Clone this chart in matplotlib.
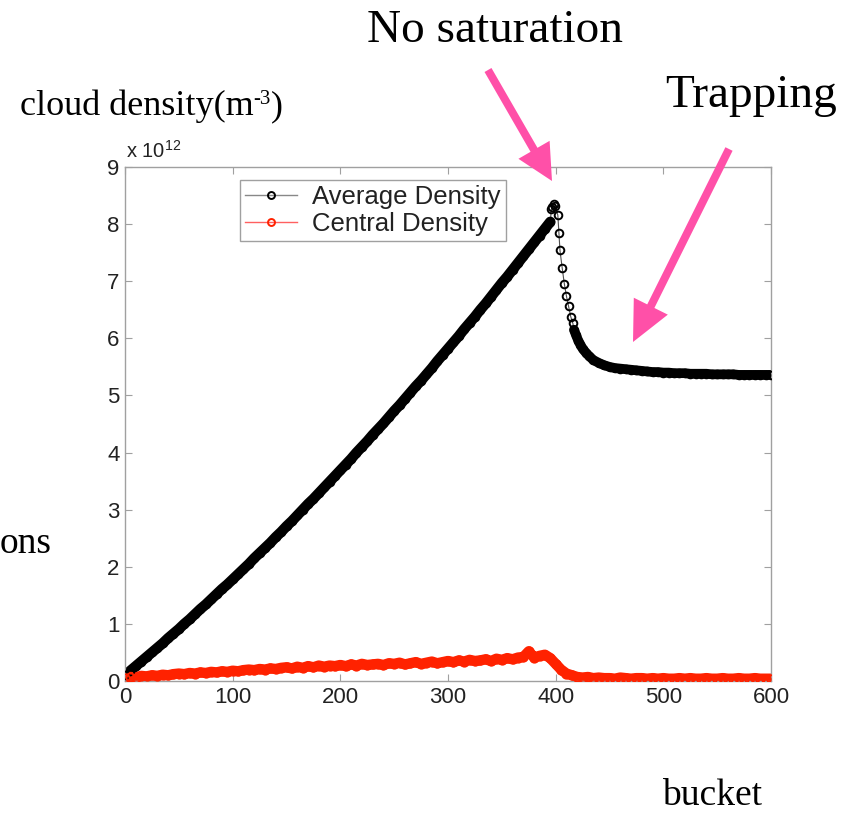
"""Cloud density vs bucket: average vs central density, with annotations."""

import numpy as np
import matplotlib
matplotlib.use("Agg")
import matplotlib.pyplot as plt
from matplotlib.lines import Line2D
from matplotlib.patches import FancyArrow

# average density (units of 1e12 m^-3), rising part every 5 buckets
rise_bucket = list(range(0, 400, 5))
rise_avg = [0.10, 0.18, 0.26, 0.34, 0.42, 0.50, 0.58, 0.66, 0.75, 0.83,
            0.91, 1.00, 1.08, 1.17, 1.26, 1.34, 1.43, 1.52, 1.61, 1.69,
            1.78, 1.87, 1.96, 2.05, 2.15, 2.24, 2.33, 2.42, 2.52, 2.61,
            2.71, 2.80, 2.90, 3.00, 3.10, 3.19, 3.29, 3.39, 3.49, 3.59,
            3.69, 3.79, 3.89, 4.00, 4.10, 4.20, 4.31, 4.41, 4.51, 4.62,
            4.73, 4.83, 4.94, 5.05, 5.16, 5.26, 5.37, 5.48, 5.60, 5.71,
            5.82, 5.93, 6.04, 6.16, 6.27, 6.38, 6.50, 6.61, 6.73, 6.85,
            6.97, 7.08, 7.20, 7.32, 7.44, 7.56, 7.68, 7.80, 7.92, 8.04]

# peak and collapse
drop_bucket = [396, 397, 398, 399, 402, 403, 404, 406, 408, 410, 412, 414,
               416, 417, 419, 421, 423, 425, 428, 431, 435]
drop_avg = [8.26, 8.30, 8.35, 8.31, 8.16, 7.85, 7.54, 7.24, 6.96, 6.74, 6.56,
            6.38, 6.26, 6.15, 6.05, 5.96, 5.89, 5.82, 5.75, 5.69, 5.62]

# trapped level
tail_bucket = list(range(440, 601, 5))
tail_avg = [5.57, 5.53, 5.50, 5.48, 5.47, 5.46, 5.45, 5.44, 5.43, 5.42,
            5.41, 5.41, 5.40, 5.40, 5.39, 5.39, 5.39, 5.38, 5.38, 5.38,
            5.38, 5.37, 5.37, 5.37, 5.37, 5.37, 5.36, 5.36, 5.36, 5.36,
            5.36, 5.36, 5.36]

# central density, every 5 buckets
central_bucket = list(range(0, 601, 5))
central = [0.05, 0.07, 0.06, 0.09, 0.08, 0.10, 0.09, 0.11, 0.10, 0.12,
           0.13, 0.12, 0.14, 0.13, 0.15, 0.14, 0.16, 0.15, 0.17, 0.16,
           0.18, 0.17, 0.19, 0.20, 0.19, 0.21, 0.20, 0.22, 0.21, 0.23,
           0.24, 0.22, 0.25, 0.23, 0.26, 0.24, 0.27, 0.25, 0.27, 0.26,
           0.28, 0.26, 0.29, 0.27, 0.30, 0.28, 0.29, 0.30, 0.28, 0.31,
           0.30, 0.32, 0.29, 0.31, 0.33, 0.30, 0.32, 0.34, 0.31, 0.33,
           0.35, 0.33, 0.36, 0.34, 0.37, 0.35, 0.36, 0.38, 0.35, 0.39,
           0.37, 0.40, 0.38, 0.41, 0.42, 0.52, 0.41, 0.44, 0.46, 0.40,
           0.30, 0.20, 0.13, 0.10, 0.07, 0.06, 0.07, 0.05, 0.06, 0.05,
           0.05, 0.04, 0.06, 0.05, 0.04, 0.05, 0.05, 0.04, 0.05, 0.04,
           0.05, 0.04, 0.04, 0.05, 0.04, 0.05, 0.04, 0.04, 0.05, 0.04,
           0.04, 0.05, 0.04, 0.04, 0.05, 0.04, 0.04, 0.05, 0.04, 0.04, 0.04]

x_ticks = [0, 100, 200, 300, 400, 500, 600]
y_ticks = [0, 1, 2, 3, 4, 5, 6, 7, 8, 9]

RED = "#ff2200"
PINK = "#ff50a8"
FRAME = "#a0a0a0"
SANS = ["Liberation Sans", "DejaVu Sans"]
SERIF = ["Liberation Serif", "DejaVu Serif"]

fig = plt.figure(figsize=(8.55, 8.14), dpi=100)
ax = fig.add_axes([125 / 855, 1 - 681 / 814, 646 / 855, 514 / 814])

avg_b = rise_bucket + drop_bucket + tail_bucket
avg_v = rise_avg + drop_avg + tail_avg
# dense part after the collapse (markers overlap into a solid band)
settle_b = [b for b in avg_b if b >= 417]
settle_v = [v for b, v in zip(avg_b, avg_v) if b >= 417]

# thin connecting lines underneath
ax.plot(avg_b, avg_v, color="#505050", lw=0.8, zorder=1)
ax.plot(central_bucket, central, color=RED, lw=0.8, zorder=1)
# thick underlay to make the dense marker bands solid
ax.plot(rise_bucket, rise_avg, color="black", lw=7.5, solid_capstyle="round", zorder=2)
ax.plot(settle_b, settle_v, color="black", lw=7, solid_capstyle="round", zorder=2)
ax.plot(central_bucket, central, color=RED, lw=7.5, solid_capstyle="round", zorder=2)
# open circle markers
ax.plot(avg_b, avg_v, ls="none", marker="o", ms=5.5,
        mfc="none", mec="black", mew=1.4, zorder=3)
ax.plot(central_bucket, central, ls="none", marker="o", ms=6,
        mfc="none", mec=RED, mew=1.4, zorder=3)

ax.set_xlim(0, 600)
ax.set_ylim(0, 9)
ax.set_xticks(x_ticks)
ax.set_yticks(y_ticks)
ax.tick_params(direction="in", length=5, width=0.8, color=FRAME,
               top=True, right=True, labelsize=16, pad=4)
for lbl in ax.get_xticklabels() + ax.get_yticklabels():
    lbl.set_family(SANS)
    lbl.set_color("#222222")
for s in ax.spines.values():
    s.set_color(FRAME)
    s.set_linewidth(1.0)

handles = [
    Line2D([], [], color="#888888", lw=1, marker="o", ms=5, mfc="none",
           mec="black", mew=1.4),
    Line2D([], [], color="#ff6060", lw=1, marker="o", ms=5, mfc="none",
           mec=RED, mew=1.4),
]
leg = ax.legend(handles, ["Average Density", "Central Density"],
                loc="upper left", bbox_to_anchor=(0.178, 0.975),
                prop={"family": SANS, "size": 18.5}, fancybox=False,
                framealpha=1, edgecolor=FRAME, handlelength=2.0,
                borderpad=0.2, labelspacing=0.1, handletextpad=0.6,
                borderaxespad=0)
leg.get_frame().set_linewidth(1.0)
for t in leg.get_texts():
    t.set_color("#222222")

# overlay in pixel coordinates for annotations
ov = fig.add_axes([0, 0, 1, 1], zorder=5)
ov.set_xlim(0, 855)
ov.set_ylim(814, 0)
ov.axis("off")
ov.patch.set_alpha(0)

ov.text(126, 158, r"x 10$^{\mathregular{12}}$", fontsize=14.5, family=SANS,
        color="#222222", va="baseline")

ov.text(495, 42, "No saturation", fontsize=34, family=SERIF, ha="center",
        va="baseline")
ov.text(751, 107, "Trapping", fontsize=34, family=SERIF, ha="center",
        va="baseline")
t = ov.text(20, 115, "cloud density(m", fontsize=26, family=SERIF,
            va="baseline")
s = ov.annotate("-3", xy=(1, 0), xycoords=t, xytext=(0, 10),
                textcoords="offset points", fontsize=15, family=SERIF,
                va="bottom")
ov.annotate(")", xy=(1, 0), xycoords=s, xytext=(0, -10),
            textcoords="offset points", fontsize=26, family=SERIF,
            va="bottom")
ov.text(0, 553, "ons", fontsize=27, family=SERIF, va="baseline")
ov.text(712, 805, "bucket", fontsize=27, family=SERIF, ha="center",
        va="baseline")

ov.add_patch(FancyArrow(488, 70, 552 - 488, 181 - 70, width=8,
                        head_width=36, head_length=36,
                        length_includes_head=True, color=PINK, lw=0))
ov.add_patch(FancyArrow(729, 149, 633 - 729, 342 - 149, width=8,
                        head_width=38, head_length=40,
                        length_includes_head=True, color=PINK, lw=0))

fig.savefig("out.png", dpi=100)
